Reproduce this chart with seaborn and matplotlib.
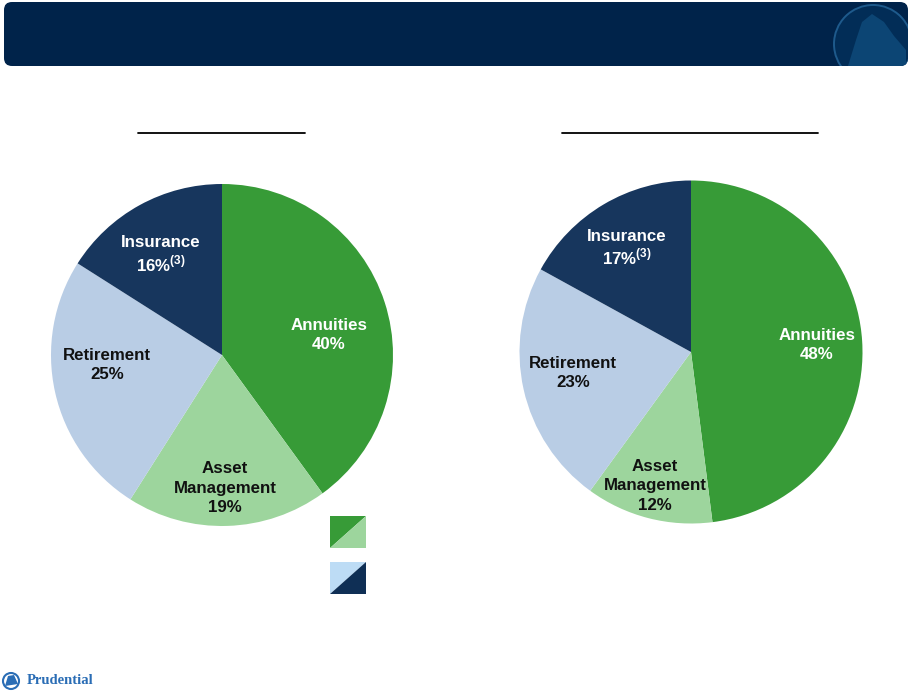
import matplotlib
matplotlib.use("Agg")
import matplotlib.pyplot as plt
import seaborn as sns
from matplotlib.patches import FancyBboxPatch, Circle, Polygon
from matplotlib.lines import Line2D

sns.set_theme(style="white")
plt.rcParams["font.family"] = ["Liberation Sans", "DejaVu Sans"]
plt.rcParams["mathtext.fontset"] = "custom"
plt.rcParams["mathtext.bf"] = "Liberation Sans:bold"
plt.rcParams["mathtext.rm"] = "Liberation Sans:bold"

# data
segments = ["Annuities", "Asset\nManagement", "Retirement", "Insurance"]
left_values = [40, 19, 25, 16]
right_values = [48, 12, 23, 17]
seg_colors = ["#379b37", "#9dd59d", "#b9cde5", "#17365d"]
label_colors = ["white", "#111111", "#111111", "white"]
# label anchor points inside each pie (radius units)
left_label_pos = [(0.626, 0.117), (0.018, -0.778), (-0.673, -0.058), (-0.357, 0.585)]
right_label_pos = [(0.735, 0.041), (-0.21, -0.781), (-0.688, -0.122), (-0.373, 0.606)]

W, H = 910, 693
fig = plt.figure(figsize=(W / 100, H / 100), dpi=100)
fig.patch.set_facecolor("white")


def px_axes(x0, y0, x1, y1):
    return fig.add_axes([x0 / W, 1 - y1 / H, (x1 - x0) / W, (y1 - y0) / H])


def draw_pie(ax, values, label_pos):
    ax.pie(values, colors=seg_colors, startangle=90, counterclock=False,
           wedgeprops=dict(linewidth=0), radius=1)
    ax.set_xlim(-1, 1)
    ax.set_ylim(-1, 1)
    ax.set_aspect("equal")
    ax.axis("off")
    for name, val, (lx, ly), c in zip(segments, values, label_pos, label_colors):
        pct = f"{val}%"
        if name == "Insurance":
            pct = pct + r"$^{\bf (3)}$"
        ax.text(lx, ly, f"{name}\n{pct}", ha="center", va="center", color=c,
                fontsize=12.2, fontweight="bold",
                linespacing=1.2 if name == "Insurance" else 1.38)


ax_l = px_axes(51, 184, 393, 526)
draw_pie(ax_l, left_values, left_label_pos)
ax_r = px_axes(519.5, 180.5, 862.5, 523.5)
draw_pie(ax_r, right_values, right_label_pos)

# overlay axes in pixel coordinates for decorations
ov = fig.add_axes([0, 0, 1, 1], zorder=-1)
ov.set_xlim(0, W)
ov.set_ylim(H, 0)
ov.axis("off")

header = FancyBboxPatch((4, 2), 904, 64, boxstyle="round,pad=0,rounding_size=8",
                        facecolor="#00234a", edgecolor="none")
ov.add_patch(header)
logo = Circle((873, 44), 39, facecolor="#022d57", edgecolor="#1e5a8c", linewidth=1.4)
ov.add_patch(logo)
logo.set_clip_path(header)
rock = Polygon([(848, 66), (856, 40), (862, 22), (872, 14), (884, 22), (894, 36),
                (906, 50), (906, 66)],
               closed=True, facecolor="#0c4574", edgecolor="none")
ov.add_patch(rock)
rock.set_clip_path(header)

ov.add_line(Line2D([138, 305], [133, 133], color="black", linewidth=1.3))
ov.add_line(Line2D([562, 818], [133, 133], color="black", linewidth=1.3))

# legend swatches split on the diagonal
ov.add_patch(Polygon([(330, 516), (366, 516), (330, 548)], facecolor="#379b37", edgecolor="none"))
ov.add_patch(Polygon([(366, 516), (366, 548), (330, 548)], facecolor="#9dd59d", edgecolor="none"))
ov.add_patch(Polygon([(330, 562), (366, 562), (330, 594)], facecolor="#bddcf5", edgecolor="none"))
ov.add_patch(Polygon([(366, 562), (366, 594), (330, 594)], facecolor="#0f2f55", edgecolor="none"))

# footer logo
ov.add_patch(Circle((11, 681), 8, facecolor="white", edgecolor="#2a6db5", linewidth=1.5))
ov.add_patch(Polygon([(5, 686), (8, 676), (14, 675), (18, 684)], facecolor="#2a6db5",
                     edgecolor="none"))
ov.text(27, 681, "Prudential", ha="left", va="center", color="#2a6db5",
        fontsize=10.5, fontweight="bold", family=["Liberation Serif", "DejaVu Serif"])

fig.savefig("out.png", dpi=100, facecolor="white")
